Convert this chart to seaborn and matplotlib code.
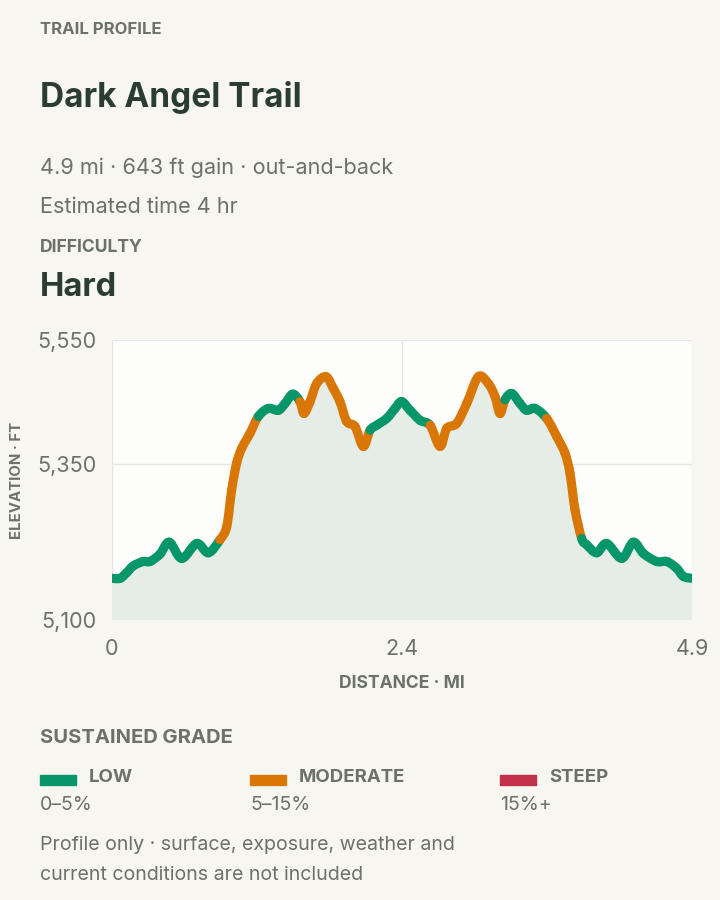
import matplotlib
matplotlib.use("Agg")
import matplotlib.pyplot as plt
import numpy as np
import seaborn as sns
from matplotlib.collections import PathCollection
from matplotlib.patches import Rectangle, PathPatch
from matplotlib.path import Path

# Elevation profile (distance in mi, elevation in ft)
distance_mi = [0.00, 0.068, 0.124, 0.180, 0.264, 0.321, 0.406, 0.484, 0.589, 0.716,
               0.814, 0.912, 0.969, 1.011, 1.053, 1.096, 1.166, 1.236, 1.320, 1.405,
               1.462, 1.527, 1.588, 1.622, 1.673, 1.729, 1.808, 1.870, 1.926, 1.983,
               2.053, 2.123, 2.180, 2.236, 2.321, 2.391, 2.447, 2.518, 2.602, 2.687,
               2.771, 2.828, 2.912, 2.997, 3.095, 3.179, 3.236, 3.278, 3.320, 3.377,
               3.447, 3.503, 3.574, 3.672, 3.757, 3.827, 3.869, 3.912, 3.968, 4.010,
               4.095, 4.179, 4.306, 4.404, 4.489, 4.602, 4.687, 4.771, 4.827, 4.900]
elevation_ft = [5167, 5167, 5176, 5187, 5194, 5194, 5206, 5225, 5199, 5223,
                5208, 5229, 5250, 5309, 5352, 5376, 5400, 5427, 5440, 5437,
                5448, 5463, 5451, 5432, 5451, 5480, 5491, 5472, 5451, 5419,
                5411, 5379, 5405, 5413, 5424, 5440, 5451, 5437, 5421, 5413,
                5379, 5408, 5416, 5448, 5491, 5480, 5459, 5432, 5454, 5464,
                5448, 5437, 5440, 5424, 5395, 5368, 5336, 5277, 5231, 5221,
                5208, 5223, 5199, 5225, 5207, 5194, 5194, 5183, 5170, 5167]

# sustained grade bands along the trail: (start mi, end mi, class)
band_start = [0.0, 0.912, 1.236, 1.588, 2.180, 2.687, 3.320, 3.672, 3.968]
band_end = [0.912, 1.236, 1.588, 2.180, 2.687, 3.320, 3.672, 3.968, 4.9]
band_class = ["low", "moderate", "low", "moderate", "low", "moderate", "low", "moderate", "low"]

grade_keys = ["low", "moderate", "steep"]
grade_names = ["LOW", "MODERATE", "STEEP"]
grade_ranges = ["0–5%", "5–15%", "15%+"]
grade_colors = {"low": "#07966a", "moderate": "#d97706", "steep": "#c3304a"}

y_ticks = [5100, 5350, 5550]
x_ticks = [0, 2.45, 4.9]
x_tick_labels = ["0", "2.4", "4.9"]

BG = "#f7f6f1"
PLOT_BG = "#fdfdfb"
DARK = "#2b3d33"
GREY = "#6c7169"

sns.set_theme(style="white")
plt.rcParams["font.family"] = ["Inter", "DejaVu Sans"]

W, H = 720, 900
fig = plt.figure(figsize=(7.2, 9), dpi=100, facecolor=BG)


def fx(x):
    return x / W


def fy(y):
    return 1 - y / H


def ptxt(x, y, s, size, color=GREY, weight="normal", **kw):
    fig.text(fx(x), fy(y), s, fontsize=size, color=color, fontweight=weight,
             va="center", **kw)


# header
ptxt(40, 30, "TRAIL PROFILE", 12, weight="bold")
ptxt(40, 97, "Dark Angel Trail", 24, color=DARK, weight="bold")
ptxt(40, 168, "4.9 mi · 643 ft gain · out-and-back", 15.6)
ptxt(40, 207, "Estimated time 4 hr", 15.6)
ptxt(40, 247, "DIFFICULTY", 12.6, weight="bold")
ptxt(40, 287, "Hard", 23.5, color=DARK, weight="bold")

# chart
ax = fig.add_axes([fx(112), fy(620), fx(692) - fx(112), (620 - 340) / H])
ax.set_facecolor(PLOT_BG)
for s in ax.spines.values():
    s.set_visible(False)

# smooth (Catmull-Rom) bezier pieces through the data points
P = np.column_stack([distance_mi, elevation_ft]).astype(float)
n = len(P)
pieces = []
for i in range(n - 1):
    p0 = P[max(i - 1, 0)]
    p1 = P[i]
    p2 = P[i + 1]
    p3 = P[min(i + 2, n - 1)]
    c1 = p1 + (p2 - p0) / 6
    c2 = p2 - (p3 - p1) / 6
    pieces.append((p1, c1, c2, p2))

# area under the profile
verts = [P[0]]
codes = [Path.MOVETO]
for p1, c1, c2, p2 in pieces:
    verts += [c1, c2, p2]
    codes += [Path.CURVE4] * 3
verts += [(P[-1, 0], 5100), (P[0, 0], 5100), P[0]]
codes += [Path.LINETO, Path.LINETO, Path.CLOSEPOLY]
ax.add_patch(PathPatch(Path(verts, codes), facecolor="#e5ede6", lw=0, zorder=1))

seg_paths = []
seg_colors = []
for p1, c1, c2, p2 in pieces:
    seg_paths.append(Path([p1, c1, c2, p2], [Path.MOVETO] + [Path.CURVE4] * 3))
    mid = (p1[0] + p2[0]) / 2
    cls = "low"
    for b0, b1, c in zip(band_start, band_end, band_class):
        if b0 <= mid <= b1:
            cls = c
    seg_colors.append(grade_colors[cls])
pc = PathCollection(seg_paths, facecolors="none", edgecolors=seg_colors,
                    linewidths=6.6, capstyle="round", joinstyle="round",
                    transform=ax.transData, zorder=3)
ax.add_collection(pc)

ax.set_xlim(0, 4.9)
ax.set_ylim(5100, 5550)
ax.set_yticks(y_ticks)
ax.set_yticklabels([f"{v:,}" for v in y_ticks])
ax.set_xticks(x_ticks)
ax.set_xticklabels(x_tick_labels)
ax.grid(True, color="#e6e6e2", lw=1, zorder=0)
ax.tick_params(axis="both", length=0, labelsize=15.5, labelcolor=GREY)
ax.tick_params(axis="y", pad=11)
ax.tick_params(axis="x", pad=14)

ptxt(17, 480, "ELEVATION · FT", 10.8, weight="bold", rotation=90, ha="center")
ptxt(402, 684, "DISTANCE · MI", 12.6, weight="bold", ha="center")

# legend
ptxt(40, 738, "SUSTAINED GRADE", 14.5, weight="bold")
legend_x = [40, 250, 500]
for x0, key, name, rng in zip(legend_x, grade_keys, grade_names, grade_ranges):
    fig.patches.append(Rectangle((fx(x0), fy(785)), fx(36), 10 / H,
                                 color=grade_colors[key],
                                 transform=fig.transFigure, figure=fig))
    ptxt(x0 + 49, 777, name, 13.4, weight="bold")
    ptxt(x0, 805, rng, 14)

ptxt(40, 845, "Profile only · surface, exposure, weather and", 14.1)
ptxt(40, 875, "current conditions are not included", 14.1)

fig.savefig("out.png", dpi=100, facecolor=BG)
